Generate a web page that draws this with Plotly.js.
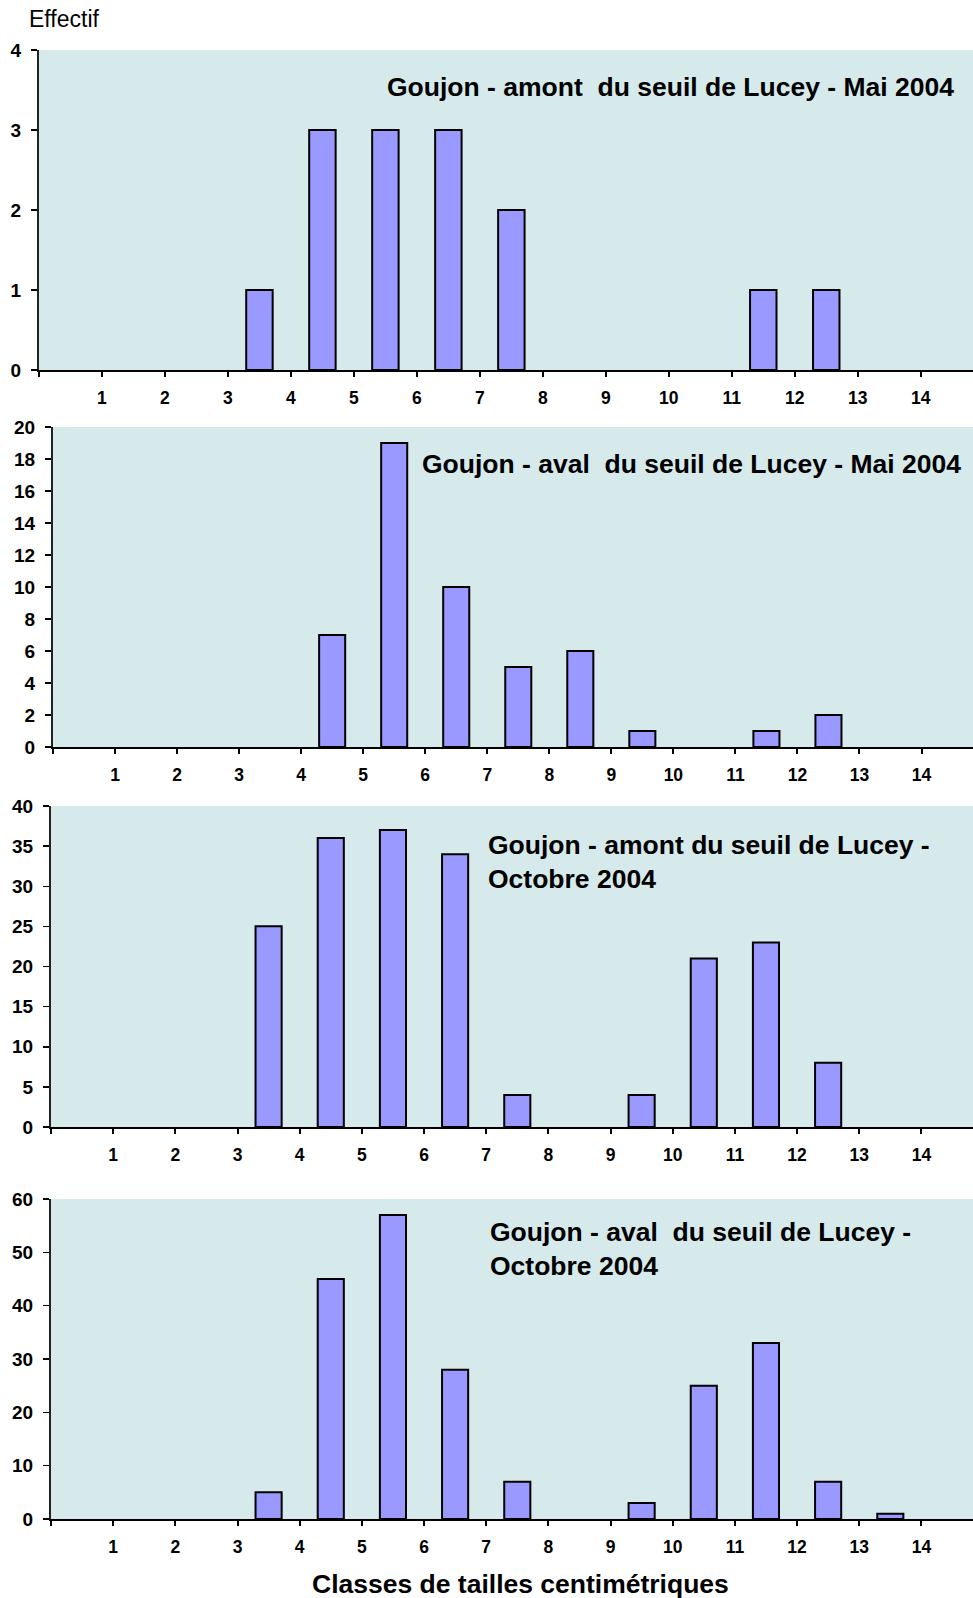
<!DOCTYPE html>
<html>
<head>
<meta charset="utf-8">
<script src="https://cdn.plot.ly/plotly-3.0.1.min.js"></script>
<style>html,body{margin:0;padding:0;background:#fff;}#chart{width:973px;height:1598px;}</style>
</head>
<body>
<div id="chart"></div>
<script>
// Lower bound (cm) of each size class
const classes = [0, 1, 2, 3, 4, 5, 6, 7, 8, 9, 10, 11, 12, 13];
// Tick labels on the size axis
const tickValues = [0, 1, 2, 3, 4, 5, 6, 7, 8, 9, 10, 11, 12, 13, 14];
const tickLabels = ['', '1', '2', '3', '4', '5', '6', '7', '8', '9', '10', '11', '12', '13', '14'];

// Counts per class
const amontMai = [0, 0, 0, 1, 3, 3, 3, 2, 0, 0, 0, 1, 1, 0];
const avalMai = [0, 0, 0, 0, 7, 19, 10, 5, 6, 1, 0, 1, 2, 0];
const amontOct = [0, 0, 0, 25, 36, 37, 34, 4, 0, 4, 21, 23, 8, 0];
const avalOct = [0, 0, 0, 5, 45, 57, 28, 7, 0, 3, 25, 33, 7, 1];

const titles = [
  'Goujon - amont&nbsp; du seuil de Lucey - Mai 2004',
  'Goujon - aval&nbsp; du seuil de Lucey - Mai 2004',
  'Goujon - amont du seuil de Lucey -<br>Octobre 2004',
  'Goujon - aval&nbsp; du seuil de Lucey -<br>Octobre 2004'
];
const yMax = [4, 20, 40, 60];
const yStep = [1, 2, 5, 10];
const series = [amontMai, avalMai, amontOct, avalOct];

const W = 973, H = 1598;
const FONT = '"Liberation Sans", Arial, sans-serif';
const px = x => x / W;
const py = y => 1 - y / H;

// panel geometry (pixels)
const panels = [
  {left: 39, top: 50, bottom: 370, tx: 385, ty: 87},
  {left: 53, top: 427, bottom: 747, tx: 420, ty: 464},
  {left: 51, top: 806, bottom: 1127, tx: 486, ty: 862},
  {left: 51, top: 1199, bottom: 1519, tx: 488, ty: 1249}
];
const xRange = [0, 14.83];

const traces = [];
const layout = {
  width: W, height: H,
  margin: {l: 0, r: 0, t: 0, b: 0},
  paper_bgcolor: '#ffffff',
  plot_bgcolor: '#D6EAEC',
  showlegend: false,
  font: {family: FONT, color: '#000'},
  annotations: [],
  bargap: 0
};

panels.forEach((p, i) => {
  const n = i + 1;
  const xs = 'x' + n, ys = 'y' + n;
  traces.push({
    type: 'bar',
    x: classes.map(c => c + 0.5),
    y: series[i].map(v => (v === 0 ? null : v)),
    width: 0.42,
    xaxis: xs, yaxis: ys,
    marker: {color: '#9999FF', line: {color: '#000000', width: 2}},
    hoverinfo: 'skip'
  });
  const dom = [px(p.left), 1];
  const ydom = [py(p.bottom), py(p.top)];
  layout['xaxis' + n] = {
    domain: dom, range: xRange, anchor: ys,
    tickmode: 'array', tickvals: tickValues, ticktext: tickLabels,
    ticks: 'outside', ticklen: 5, tickwidth: 2, tickcolor: '#000',
    showline: true, linecolor: '#000', linewidth: 2,
    showgrid: false, zeroline: false,
    tickfont: {family: FONT, size: 17.5, color: '#000', weight: 'bold'},
    ticklabelstandoff: 6
  };
  // inside half of the crossing tick marks
  layout['xaxis' + (4 + n)] = {
    domain: dom, range: xRange, anchor: ys, overlaying: xs, side: 'bottom',
    tickmode: 'array', tickvals: tickValues,
    ticks: 'inside', ticklen: 5, tickwidth: 2, tickcolor: '#000',
    showticklabels: false, showline: false, showgrid: false, zeroline: false
  };
  // gray top border
  layout['xaxis' + (8 + n)] = {
    domain: dom, range: xRange, anchor: ys, overlaying: xs, side: 'top',
    ticks: '', showticklabels: false, showline: true, linecolor: '#8C8C8C', linewidth: 2,
    showgrid: false, zeroline: false
  };
  layout['yaxis' + n] = {
    domain: ydom, range: [0, yMax[i]], anchor: xs,
    tick0: 0, dtick: yStep[i],
    ticks: 'outside', ticklen: 6, tickwidth: 1.5, tickcolor: '#000',
    showline: true, linecolor: '#222', linewidth: 2,
    showgrid: false, zeroline: false,
    tickfont: {family: FONT, size: 19, color: '#000', weight: 'bold'},
    ticklabelstandoff: 6
  };
  layout.annotations.push({
    text: titles[i], xref: 'paper', yref: 'paper',
    x: px(p.tx), y: py(p.ty), xanchor: 'left', yanchor: 'middle', align: 'left',
    showarrow: false,
    font: {family: FONT, size: 26.5, color: '#000', weight: 'bold'}
  });
});

layout.annotations.push({
  text: 'Effectif', xref: 'paper', yref: 'paper',
  x: px(27), y: py(19), xanchor: 'left', yanchor: 'middle', showarrow: false,
  font: {family: FONT, size: 23, color: '#000'}
});
layout.annotations.push({
  text: 'Classes de tailles centimétriques', xref: 'paper', yref: 'paper',
  x: px(520), y: py(1584), xanchor: 'center', yanchor: 'middle', showarrow: false,
  font: {family: FONT, size: 26.5, color: '#000', weight: 'bold'}
});

Plotly.newPlot('chart', traces, layout, {staticPlot: true, displayModeBar: false});
</script>
</body>
</html>
